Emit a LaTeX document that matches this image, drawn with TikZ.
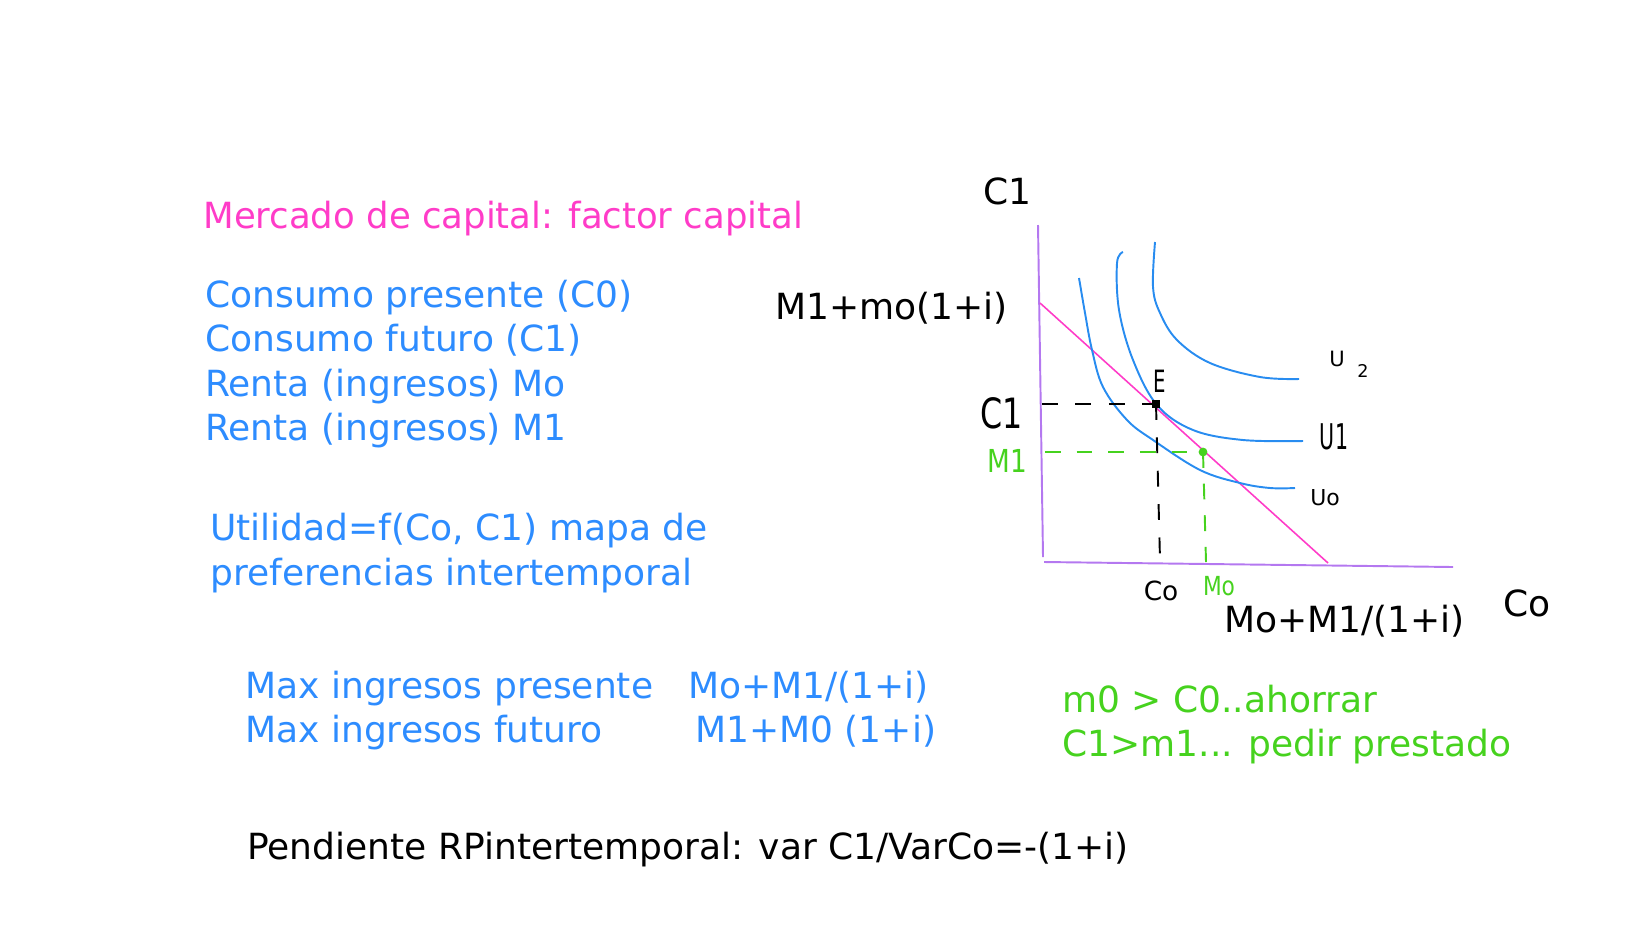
\documentclass[tikz,border=0pt]{standalone}
\usepackage{fontspec}
\setmainfont{DejaVu Sans}
\newfontfamily\handfont{DejaVu Sans}
\definecolor{tblue}{RGB}{45,140,255}
\definecolor{cblue}{RGB}{40,140,240}
\definecolor{tpink}{RGB}{255,60,200}
\definecolor{tgreen}{RGB}{70,210,30}
\definecolor{axpurple}{RGB}{180,120,240}
\begin{document}
\begin{tikzpicture}[x=0.02cm,y=-0.02cm,
  txt/.style={anchor=base west, inner sep=0pt, font=\fontsize{20.5}{24}\selectfont},
  hand/.style={inner sep=0pt, font=\handfont\fontsize{#1}{#1}\selectfont},
  axis/.style={draw=axpurple, line width=1.1pt},
  budget/.style={draw=tpink, line width=0.9pt},
  icurve/.style={draw=cblue, line width=1.1pt},
  bdash/.style={draw=black, line width=1.1pt, dash pattern=on 9pt off 10pt},
  gdash/.style={draw=tgreen, line width=1.1pt, dash pattern=on 9pt off 9pt}]
\useasboundingbox (0,0) rectangle (1648,927);

% left texts
\node[txt, text=tpink] (title) at (203,228) {\scalebox{0.986}[1]{Mercado de capital: factor capital}};
\node[txt, text=tblue] (l1) at (205,307) {Consumo presente (C0)};
\node[txt, text=tblue] (l2) at (205,351) {Consumo futuro (C1)};
\node[txt, text=tblue] (l3) at (205,396) {Renta (ingresos) Mo};
\node[txt, text=tblue] (l4) at (205,440) {Renta (ingresos) M1};
\node[txt, text=tblue] (u1) at (210,540) {Utilidad=f(Co, C1) mapa de};
\node[txt, text=tblue] (u2) at (210,585) {preferencias intertemporal};
\node[txt, text=tblue] (m1) at (245,698) {Max ingresos presente};
\node[txt, text=tblue] (m1v) at (688,698) {Mo+M1/(1+i)};
\node[txt, text=tblue] (m2) at (245,742) {Max ingresos futuro};
\node[txt, text=tblue] (m2v) at (695,742) {M1+M0 (1+i)};
\node[txt, text=tgreen] (g1) at (1062,712) {m0 > C0..ahorrar};
\node[txt, text=tgreen] (g2) at (1062,756) {C1>m1... pedir prestado};
\node[txt] (pend) at (247,859) {Pendiente RPintertemporal: var C1/VarCo=-(1+i)};

% axis labels
\node[txt] (yl) at (983,204) {C1};
\node[txt] (yi) at (775,319) {M1+mo(1+i)};
\node[txt] (xl) at (1503,616) {Co};
\node[txt] (xi) at (1224,632) {Mo+M1/(1+i)};

% axes
\coordinate (ytop) at (1038,225);
\coordinate (ybot) at (1043,557);
\coordinate (xleft) at (1044,562);
\coordinate (xright) at (1453,567);
\draw[axis] (ytop) -- (ybot);
\draw[axis] (xleft) -- (xright);

% budget line
\coordinate (bA) at (1040,303);
\coordinate (bB) at (1328,563);
\draw[budget] (bA) -- (bB);

% indifference curves
\draw[icurve] plot[smooth, tension=0.6] coordinates {(1155,242) (1153,287) (1160,313) (1177,340) (1210,363) (1260,377) (1299,379)};
\draw[icurve] plot[smooth, tension=0.6] coordinates {(1123,252) (1117,263) (1119,310) (1133,360) (1157,405) (1193,430) (1243,440) (1303,441)};
\draw[icurve] plot[smooth, tension=0.6] coordinates {(1079,278) (1085,313) (1092,350) (1103,387) (1127,420) (1153,440) (1200,470) (1240,483) (1270,488) (1295,488)};

% equilibrium point E and dashed guides
\coordinate (E) at (1156,404);
\coordinate (Ey) at (1042,404);
\coordinate (Ex) at (1160,560);
\draw[bdash] (Ey) -- (E);
\draw[bdash] (E) -- (Ex);
\node[draw=black, fill=black, line width=0.6pt, minimum size=4pt, inner sep=0pt] (Ept) at (E) {};

\coordinate (G) at (1203,452);
\coordinate (Gy) at (1045,452);
\coordinate (Gx) at (1206,562);
\draw[gdash] (Gy) -- (G);
\draw[gdash] (G) -- (Gx);
\node[circle, fill=tgreen, minimum size=5pt, inner sep=0pt] (Gpt) at (G) {};

% handwritten labels
\node[hand=14] (Elab) at (1160,381) {\scalebox{0.8}[1.25]{E}};
\node[hand=19] (C1h) at (1002,413) {\scalebox{0.95}[1.25]{C1}};
\node[hand=15, text=tgreen] (M1h) at (1007,461) {\scalebox{1}[1.2]{M1}};
\node[hand=15] (Coh) at (1161,591) {Co};
\node[hand=13, text=tgreen] (Moh) at (1219,586) {\scalebox{0.95}[1.15]{Mo}};
\node[hand=12] (U2h) at (1337,359) {U};
\node[hand=10] (U2s) at (1363,371) {2};
\node[hand=13] (U1h) at (1334,437) {\scalebox{0.9}[1.55]{U1}};
\node[hand=12.5] (U0h) at (1325,498) {Uo};
\end{tikzpicture}
\end{document}
